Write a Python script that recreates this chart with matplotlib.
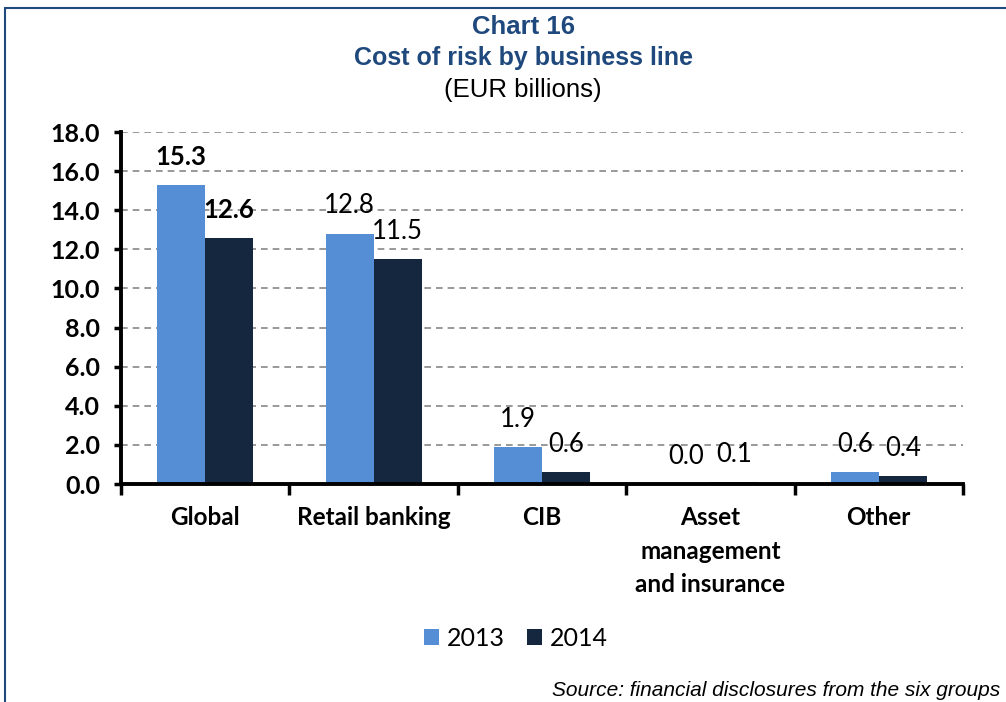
"""Cost of risk by business line, 2013 vs 2014 (EUR billions)."""
import numpy as np
from matplotlib import pyplot as plt

categories = ['Global', 'Retail banking', 'CIB', 'Asset\nmanagement\nand insurance', 'Other']
years = ['2013', '2014']
cost_2013 = [15.3, 12.8, 1.9, 0.0, 0.6]
cost_2014 = [12.6, 11.5, 0.6, 0.1, 0.4]
yticks = [0, 2, 4, 6, 8, 10, 12, 14, 16, 18]

col13 = '#558ED5'
col14 = '#14273F'
title_col = '#1F497D'
sans = ['Lato', 'DejaVu Sans']
arial = ['Liberation Sans', 'DejaVu Sans']

fig = plt.figure(figsize=(10.06, 7.02), dpi=100)
ax = fig.add_axes([121 / 1006, 1 - 484 / 702, (963 - 121) / 1006, 352 / 702])

# outer frame (only top and left edges show)
fig.patches.append(plt.Rectangle((5 / 1006, -0.1), 1.2, 1 - 8 / 702 + 0.1,
                                 transform=fig.transFigure, fill=False,
                                 ec=title_col, lw=1.5))

x = np.arange(len(categories))
w = 0.285
b13 = ax.bar(x - w / 2, cost_2013, w, color=col13, label=years[0], zorder=2)
b14 = ax.bar(x + w / 2, cost_2014, w, color=col14, label=years[1], zorder=2)

# value labels, first group in bold
for bars in (b13, b14):
    for i, r in enumerate(bars):
        v = r.get_height()
        ax.annotate('%.1f' % v, (r.get_x() + r.get_width() / 2, v),
                    xytext=(0, 20), textcoords='offset points',
                    ha='center', va='center', fontsize=18.5, family=sans,
                    fontweight='bold' if i == 0 else 'normal', zorder=4)

ax.set_xlim(-0.5, len(categories) - 0.5)
ax.set_ylim(0, 18)
ax.set_yticks(yticks)
ax.set_yticklabels(['%.1f' % t for t in yticks], fontsize=18,
                   fontweight='bold', family=sans)
ax.yaxis.grid(True, ls=(0, (4, 3)), color='#888888', lw=1.2, zorder=0)

# category boundaries carry the ticks, names sit between them
ax.set_xticks(np.arange(len(categories) + 1) - 0.5)
ax.set_xticklabels([])
ax.tick_params(axis='x', length=8, width=2.5, direction='out')
ax.tick_params(axis='y', length=5, width=2.5, direction='out', pad=10)
for i, c in enumerate(categories):
    ax.text(i, -1.15, c, ha='center', va='top', fontsize=17.5,
            fontweight='bold', family=sans, linespacing=1.55)

for s in ('top', 'right'):
    ax.spines[s].set_visible(False)
ax.spines['left'].set_linewidth(2.8)
ax.spines['bottom'].set_linewidth(2.8)

fig.text(0.52, 1 - 27 / 702, 'Chart 16', ha='center', va='center',
         fontsize=18.5, fontweight='bold', color=title_col, family=arial)
fig.text(0.52, 1 - 58 / 702, 'Cost of risk by business line', ha='center',
         va='center', fontsize=18, fontweight='bold', color=title_col, family=arial)
fig.text(0.52, 1 - 90 / 702, '(EUR billions)', ha='center', va='center',
         fontsize=18.5, family=arial)

fig.legend(handles=[b13, b14], loc='center', bbox_to_anchor=(516 / 1006, 1 - 638 / 702),
           ncol=2, frameon=False, prop={'family': sans, 'size': 18},
           handlelength=0.6, handleheight=0.6, handletextpad=0.3, columnspacing=0.9)

fig.text(1000 / 1006, 1 - 690 / 702, 'Source: financial disclosures from the six groups',
         ha='right', va='center', fontsize=15, style='italic', family=arial)

fig.savefig('out.png', dpi=100)
